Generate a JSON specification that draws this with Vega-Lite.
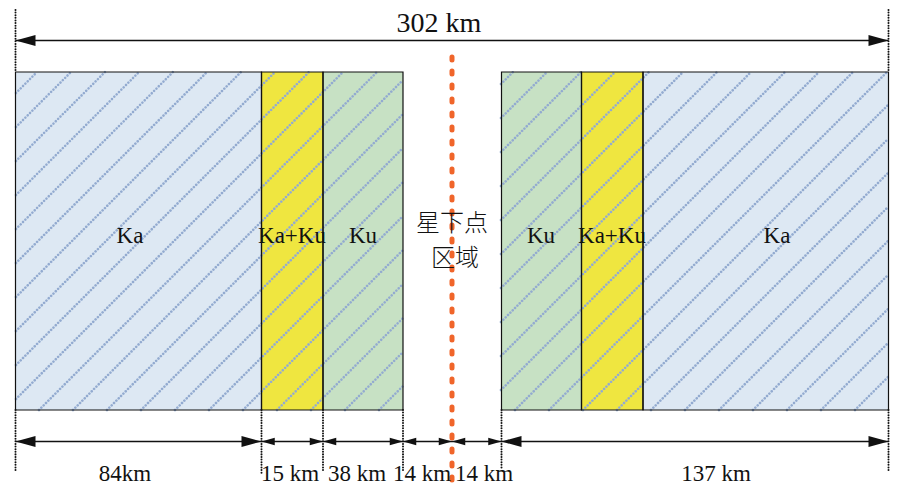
{
"$schema": "https://vega.github.io/schema/vega-lite/v6.json",
"width": 906, "height": 488, "padding": 0,
"autosize": {"type": "fit", "contains": "padding"},
"background": "white",
"config": {"view": {"stroke": null}, "axis": {"disable": true}},
"datasets": {
"rects": [
{"x": 15.5, "x2": 261.5, "y": 72, "y2": 410, "band": "Ka"},
{"x": 261.5, "x2": 323, "y": 72, "y2": 410, "band": "Ka+Ku"},
{"x": 323, "x2": 403, "y": 72, "y2": 410, "band": "Ku"},
{"x": 501.5, "x2": 581.5, "y": 72, "y2": 410, "band": "Ku"},
{"x": 581.5, "x2": 643, "y": 72, "y2": 410, "band": "Ka+Ku"},
{"x": 643, "x2": 888.5, "y": 72, "y2": 410, "band": "Ka"}
],
"hatch": [
{"x": 16, "y": 93, "x2": 37, "y2": 72},
{"x": 16, "y": 127, "x2": 71, "y2": 72},
{"x": 16, "y": 161, "x2": 105, "y2": 72},
{"x": 16, "y": 195, "x2": 139, "y2": 72},
{"x": 16, "y": 229, "x2": 173, "y2": 72},
{"x": 16, "y": 263, "x2": 207, "y2": 72},
{"x": 16, "y": 297, "x2": 241, "y2": 72},
{"x": 16, "y": 331, "x2": 275, "y2": 72},
{"x": 16, "y": 365, "x2": 309, "y2": 72},
{"x": 16, "y": 399, "x2": 343, "y2": 72},
{"x": 39, "y": 410, "x2": 377, "y2": 72},
{"x": 73, "y": 410, "x2": 403, "y2": 80},
{"x": 107, "y": 410, "x2": 403, "y2": 114},
{"x": 141, "y": 410, "x2": 403, "y2": 148},
{"x": 175, "y": 410, "x2": 403, "y2": 182},
{"x": 209, "y": 410, "x2": 403, "y2": 216},
{"x": 243, "y": 410, "x2": 403, "y2": 250},
{"x": 277, "y": 410, "x2": 403, "y2": 284},
{"x": 311, "y": 410, "x2": 403, "y2": 318},
{"x": 345, "y": 410, "x2": 403, "y2": 352},
{"x": 379, "y": 410, "x2": 403, "y2": 386},
{"x": 501, "y": 84, "x2": 513, "y2": 72},
{"x": 501, "y": 118, "x2": 547, "y2": 72},
{"x": 501, "y": 152, "x2": 581, "y2": 72},
{"x": 501, "y": 186, "x2": 615, "y2": 72},
{"x": 501, "y": 220, "x2": 649, "y2": 72},
{"x": 501, "y": 254, "x2": 683, "y2": 72},
{"x": 501, "y": 288, "x2": 717, "y2": 72},
{"x": 501, "y": 322, "x2": 751, "y2": 72},
{"x": 501, "y": 356, "x2": 785, "y2": 72},
{"x": 501, "y": 390, "x2": 819, "y2": 72},
{"x": 515, "y": 410, "x2": 853, "y2": 72},
{"x": 549, "y": 410, "x2": 887, "y2": 72},
{"x": 583, "y": 410, "x2": 888, "y2": 105},
{"x": 617, "y": 410, "x2": 888, "y2": 139},
{"x": 651, "y": 410, "x2": 888, "y2": 173},
{"x": 685, "y": 410, "x2": 888, "y2": 207},
{"x": 719, "y": 410, "x2": 888, "y2": 241},
{"x": 753, "y": 410, "x2": 888, "y2": 275},
{"x": 787, "y": 410, "x2": 888, "y2": 309},
{"x": 821, "y": 410, "x2": 888, "y2": 343},
{"x": 855, "y": 410, "x2": 888, "y2": 377}
],
"dims": [
{"x": 15.5, "x2": 888.5, "y": 40.5},
{"x": 15.5, "x2": 888.5, "y": 441.5}
],
"ext": [
{"x": 15.5, "y": 10, "y2": 72},
{"x": 888.5, "y": 10, "y2": 72},
{"x": 15.5, "y": 410, "y2": 472},
{"x": 261.5, "y": 410, "y2": 474},
{"x": 323, "y": 410, "y2": 472},
{"x": 403, "y": 410, "y2": 472},
{"x": 501.5, "y": 410, "y2": 468},
{"x": 888.5, "y": 410, "y2": 472}
],
"orange": [
{"x": 452, "y": 57, "y2": 480}
],
"arrows": [
{"x": 15.5, "y": 40.5, "dir": "left", "kind": "big"},
{"x": 888.5, "y": 40.5, "dir": "right", "kind": "big"},
{"x": 15.5, "y": 441.5, "dir": "left", "kind": "big"},
{"x": 261.5, "y": 441.5, "dir": "right", "kind": "big"},
{"x": 261.5, "y": 441.5, "dir": "left", "kind": "small"},
{"x": 323, "y": 441.5, "dir": "right", "kind": "small"},
{"x": 323, "y": 441.5, "dir": "left", "kind": "small"},
{"x": 403, "y": 441.5, "dir": "right", "kind": "small"},
{"x": 403, "y": 441.5, "dir": "left", "kind": "small"},
{"x": 452, "y": 441.5, "dir": "right", "kind": "small"},
{"x": 452, "y": 441.5, "dir": "left", "kind": "small"},
{"x": 501.5, "y": 441.5, "dir": "right", "kind": "small"},
{"x": 501.5, "y": 441.5, "dir": "left", "kind": "big"},
{"x": 888.5, "y": 441.5, "dir": "right", "kind": "big"}
],
"labels": [
{"x": 439, "y": 32, "text": "302 km", "role": "top"},
{"x": 130, "y": 243, "text": "Ka", "role": "band"},
{"x": 292, "y": 243, "text": "Ka+Ku", "role": "band"},
{"x": 363, "y": 243, "text": "Ku", "role": "band"},
{"x": 541, "y": 243, "text": "Ku", "role": "band"},
{"x": 612, "y": 243, "text": "Ka+Ku", "role": "band"},
{"x": 777, "y": 243, "text": "Ka", "role": "band"},
{"x": 125, "y": 481, "text": "84km", "role": "dim"},
{"x": 290, "y": 481, "text": "15 km", "role": "dim"},
{"x": 357, "y": 481, "text": "38 km", "role": "dim"},
{"x": 422, "y": 481, "text": "14 km", "role": "dim"},
{"x": 484, "y": 481, "text": "14 km", "role": "dim"},
{"x": 716, "y": 481, "text": "137 km", "role": "dim"}
],
"cjk": [
{"x": 452, "y": 224, "text": "星下点"},
{"x": 455, "y": 259, "text": "区域"}
]
},
"layer": [
{
"data": {"name": "rects"},
"mark": {"type": "rect", "strokeWidth": 0},
"encoding": {
"x": {"field": "x", "type": "quantitative", "scale": {"domain": [0, 906], "nice": false, "zero": false}, "axis": null},
"x2": {"field": "x2"},
"y": {"field": "y", "type": "quantitative", "scale": {"domain": [0, 488], "nice": false, "zero": false, "reverse": true}, "axis": null},
"y2": {"field": "y2"},
"color": {"field": "band", "type": "nominal", "scale": {"domain": ["Ka", "Ka+Ku", "Ku"], "range": ["#dde8f3", "#efe640", "#c7e1c4"]}, "legend": null}
}
},
{
"data": {"name": "hatch"},
"mark": {"type": "rule", "color": "#93abd0", "strokeWidth": 2.6, "strokeCap": "round", "strokeDash": [0.01, 3.3], "opacity": 1},
"encoding": {
"x": {"field": "x", "type": "quantitative", "axis": null},
"x2": {"field": "x2"},
"y": {"field": "y", "type": "quantitative", "axis": null},
"y2": {"field": "y2"}
}
},
{
"data": {"name": "rects"},
"mark": {"type": "rect", "filled": false, "color": "#111111", "strokeWidth": 1.2},
"encoding": {
"x": {"field": "x", "type": "quantitative", "axis": null},
"x2": {"field": "x2"},
"y": {"field": "y", "type": "quantitative", "axis": null},
"y2": {"field": "y2"}
}
},
{
"data": {"name": "dims"},
"mark": {"type": "rule", "color": "#111111", "strokeWidth": 1.3},
"encoding": {
"x": {"field": "x", "type": "quantitative", "axis": null},
"x2": {"field": "x2"},
"y": {"field": "y", "type": "quantitative", "axis": null}
}
},
{
"data": {"name": "ext"},
"mark": {"type": "rule", "color": "#111111", "strokeWidth": 2, "strokeCap": "round", "strokeDash": [0.01, 2.6]},
"encoding": {
"x": {"field": "x", "type": "quantitative", "axis": null},
"y": {"field": "y", "type": "quantitative", "axis": null},
"y2": {"field": "y2"}
}
},
{
"data": {"name": "arrows"},
"mark": {"type": "point", "filled": true, "opacity": 1, "color": "#111111", "strokeWidth": 0},
"encoding": {
"x": {"field": "x", "type": "quantitative", "axis": null},
"y": {"field": "y", "type": "quantitative", "axis": null},
"shape": {"field": "dir", "type": "nominal", "scale": {"domain": ["left", "right"], "range": ["M0,0L1,-0.28L1,0.28Z", "M0,0L-1,-0.28L-1,0.28Z"]}, "legend": null},
"size": {"field": "kind", "type": "ordinal", "scale": {"domain": ["big", "small"], "range": [1600, 700]}, "legend": null}
}
},
{
"data": {"name": "orange"},
"mark": {"type": "rule", "color": "#f0652a", "strokeWidth": 5, "strokeCap": "round", "strokeDash": [3, 11]},
"encoding": {
"x": {"field": "x", "type": "quantitative", "axis": null},
"y": {"field": "y", "type": "quantitative", "axis": null},
"y2": {"field": "y2"}
}
},
{
"data": {"name": "labels"},
"transform": [{"filter": "datum.role === 'top'"}],
"mark": {"type": "text", "font": "Liberation Serif", "fontSize": 28, "baseline": "alphabetic", "align": "center", "color": "#111111"},
"encoding": {
"x": {"field": "x", "type": "quantitative", "axis": null},
"y": {"field": "y", "type": "quantitative", "axis": null},
"text": {"field": "text"}
}
},
{
"data": {"name": "labels"},
"transform": [{"filter": "datum.role !== 'top'"}],
"mark": {"type": "text", "font": "Liberation Serif", "fontSize": 23, "baseline": "alphabetic", "align": "center", "color": "#111111"},
"encoding": {
"x": {"field": "x", "type": "quantitative", "axis": null},
"y": {"field": "y", "type": "quantitative", "axis": null},
"text": {"field": "text"}
}
},
{
"data": {"name": "cjk"},
"mark": {"type": "text", "font": "Noto Sans CJK SC", "fontSize": 24, "baseline": "middle", "align": "center", "color": "#111111", "fontWeight": 300},
"encoding": {
"x": {"field": "x", "type": "quantitative", "axis": null},
"y": {"field": "y", "type": "quantitative", "axis": null},
"text": {"field": "text"}
}
}
]
}
